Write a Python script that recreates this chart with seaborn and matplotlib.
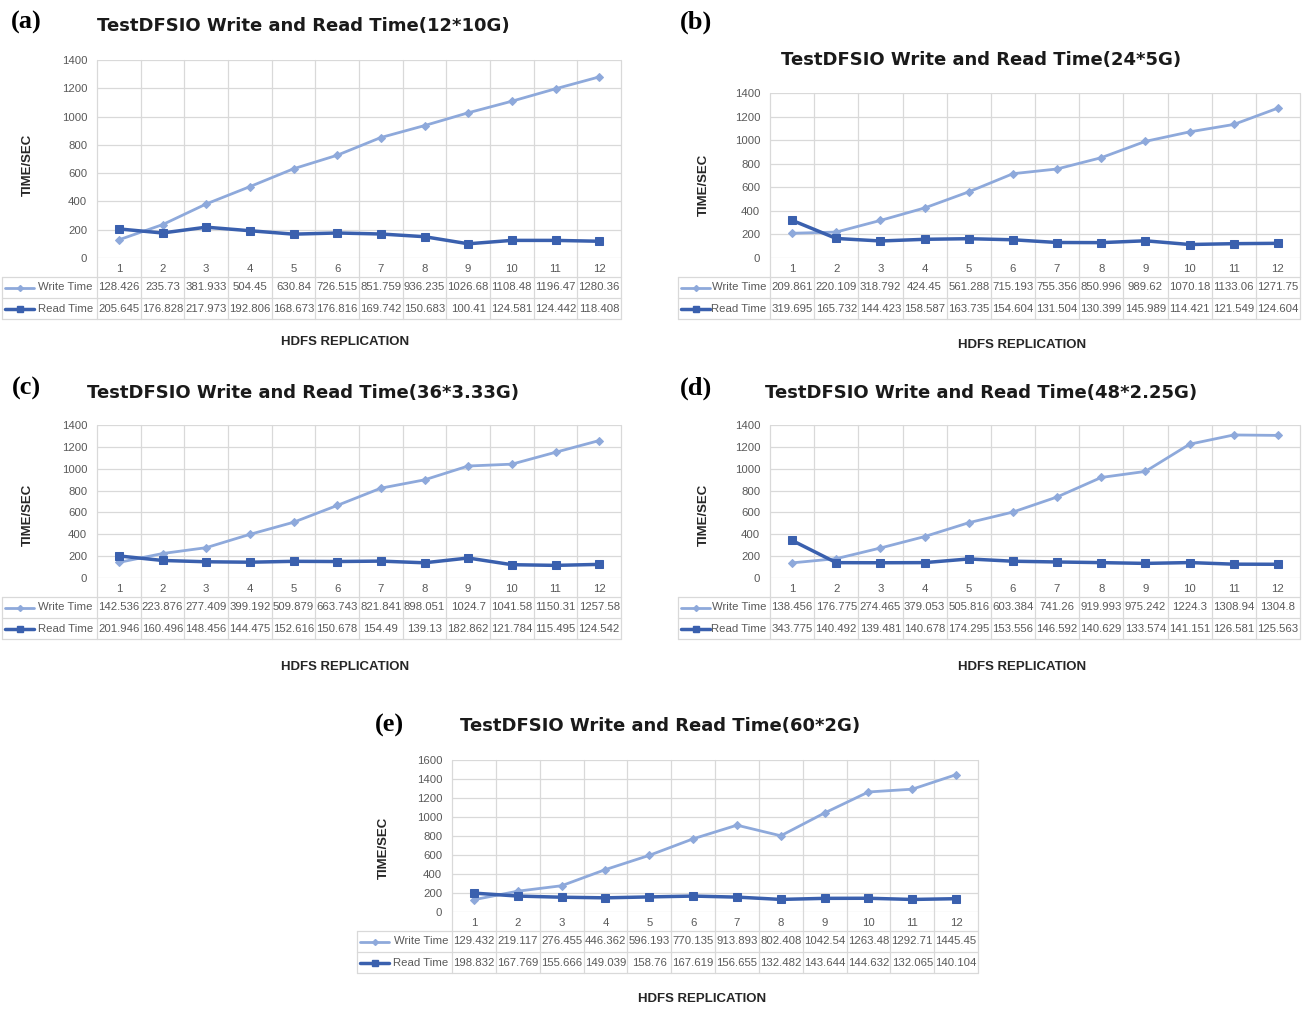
import pandas as pd
import seaborn as sns
import matplotlib.pyplot as plt

# DATA ----------------------------------------------------------------------------------------------
replication = list(range(1, 13))
panel_tags = ['(a)', '(b)', '(c)', '(d)', '(e)']
titles = ['TestDFSIO Write and Read Time(12*10G)',
          'TestDFSIO Write and Read Time(24*5G)',
          'TestDFSIO Write and Read Time(36*3.33G)',
          'TestDFSIO Write and Read Time(48*2.25G)',
          'TestDFSIO Write and Read Time(60*2G)']

write_a = [128.426, 235.73, 381.933, 504.45, 630.84, 726.515, 851.759, 936.235, 1026.68, 1108.48, 1196.47, 1280.36]
read_a = [205.645, 176.828, 217.973, 192.806, 168.673, 176.816, 169.742, 150.683, 100.41, 124.581, 124.442, 118.408]
write_b = [209.861, 220.109, 318.792, 424.45, 561.288, 715.193, 755.356, 850.996, 989.62, 1070.18, 1133.06, 1271.75]
read_b = [319.695, 165.732, 144.423, 158.587, 163.735, 154.604, 131.504, 130.399, 145.989, 114.421, 121.549, 124.604]
write_c = [142.536, 223.876, 277.409, 399.192, 509.879, 663.743, 821.841, 898.051, 1024.7, 1041.58, 1150.31, 1257.58]
read_c = [201.946, 160.496, 148.456, 144.475, 152.616, 150.678, 154.49, 139.13, 182.862, 121.784, 115.495, 124.542]
write_d = [138.456, 176.775, 274.465, 379.053, 505.816, 603.384, 741.26, 919.993, 975.242, 1224.3, 1308.94, 1304.8]
read_d = [343.775, 140.492, 139.481, 140.678, 174.295, 153.556, 146.592, 140.629, 133.574, 141.151, 126.581, 125.563]
write_e = [129.432, 219.117, 276.455, 446.362, 596.193, 770.135, 913.893, 802.408, 1042.54, 1263.48, 1292.71, 1445.45]
read_e = [198.832, 167.769, 155.666, 149.039, 158.76, 167.619, 156.655, 132.482, 143.644, 144.632, 132.065, 140.104]

writes = [write_a, write_b, write_c, write_d, write_e]
reads = [read_a, read_b, read_c, read_d, read_e]
y_max = [1400, 1400, 1400, 1400, 1600]

# LAYOUT (pixels) -----------------------------------------------------------------------------------
W, H = 1312, 1009
layout = [
    dict(tag=(26, 22), title=(303, 26), box=(97, 60, 621, 258), tleft=2, ylab=(28, 165), xlab=(345, 342)),
    dict(tag=(696, 22), title=(981, 60), box=(770, 93, 1300, 258), tleft=678, ylab=(704, 185), xlab=(1022, 345)),
    dict(tag=(26, 388), title=(303, 393), box=(97, 425, 621, 578), tleft=2, ylab=(28, 515), xlab=(345, 667)),
    dict(tag=(696, 388), title=(981, 393), box=(770, 425, 1300, 578), tleft=678, ylab=(704, 515), xlab=(1022, 667)),
    dict(tag=(389, 725), title=(660, 726), box=(452, 760, 978, 912), tleft=357, ylab=(384, 848), xlab=(702, 999)),
]

WRITE_C = '#8EA9DB'
READ_C = '#3A60AE'
GRID_C = '#D9D9D9'
TEXT_C = '#595959'
FS = 8.2  # table / tick font size

sns.set_theme(style='white')
plt.rcParams['font.family'] = ['Liberation Sans', 'DejaVu Sans']

fig = plt.figure(figsize=(W / 100, H / 100), dpi=100)
over = fig.add_axes([0, 0, 1, 1])
over.set_xlim(0, W)
over.set_ylim(H, 0)
over.axis('off')

row_h = [19, 21, 21]  # category row, write row, read row

for k, lay in enumerate(layout):
    l, t, r, b = lay['box']
    cw = (r - l) / 12
    tl = lay['tleft']

    # plot area
    ax = fig.add_axes([l / W, 1 - b / H, (r - l) / W, (b - t) / H])
    ax.patch.set_alpha(0)
    df = pd.DataFrame({'rep': replication, 'write': writes[k], 'read': reads[k]})
    sns.lineplot(data=df, x='rep', y='write', ax=ax, color=WRITE_C, marker='D', markersize=4,
                 markeredgecolor=WRITE_C, linewidth=2)
    sns.lineplot(data=df, x='rep', y='read', ax=ax, color=READ_C, marker='s', markersize=6,
                 markeredgecolor=READ_C, linewidth=2.5)
    ax.set_xlim(0.5, 12.5)
    ax.set_ylim(0, y_max[k])
    ax.set_yticks(range(0, y_max[k] + 1, 200))
    ax.set_xticks([])
    ax.set_xlabel('')
    ax.set_ylabel('')
    ax.grid(axis='y', color=GRID_C, linewidth=0.9)
    ax.tick_params(axis='y', length=0, pad=7, labelsize=FS, labelcolor=TEXT_C)
    for s in ax.spines.values():
        s.set_visible(False)

    # data table
    y1 = b + row_h[0]
    y2 = y1 + row_h[1]
    y3 = y2 + row_h[2]
    for j in range(13):
        over.plot([l + j * cw] * 2, [t, y3], color=GRID_C, lw=0.9)
    for yy in (y1, y2, y3):
        over.plot([tl, r], [yy, yy], color=GRID_C, lw=0.9)
    over.plot([tl, tl], [y1, y3], color=GRID_C, lw=0.9)
    for j, rep in enumerate(replication):
        cx = l + (j + 0.5) * cw
        over.text(cx, b + row_h[0] / 2 + 1, str(rep), ha='center', va='center', fontsize=FS, color=TEXT_C)
        over.text(cx, (y1 + y2) / 2, f'{writes[k][j]:g}', ha='center', va='center', fontsize=FS, color=TEXT_C)
        over.text(cx, (y2 + y3) / 2, f'{reads[k][j]:g}', ha='center', va='center', fontsize=FS, color=TEXT_C)

    # legend keys inside row label cells
    for (ya, yb), name, col, mk, ms, lw in [((y1, y2), 'Write Time', WRITE_C, 'D', 3, 2),
                                          ((y2, y3), 'Read Time', READ_C, 's', 5, 2.5)]:
        yc = (ya + yb) / 2
        over.plot([tl + 3, tl + 32], [yc, yc], color=col, lw=lw)
        over.plot([tl + 17.5], [yc], marker=mk, color=col, markersize=ms)
        over.text(l - 4, yc, name, ha='right', va='center', fontsize=FS, color=TEXT_C)

    # texts
    over.text(*lay['tag'], panel_tags[k], ha='center', va='center', fontsize=19, fontweight='bold',
              family=['Liberation Serif', 'DejaVu Serif'], color='black')
    over.text(*lay['title'], titles[k], ha='center', va='center', fontsize=13, fontweight='bold',
              family='DejaVu Sans', color='#1a1a1a')
    over.text(*lay['ylab'], 'TIME/SEC', ha='center', va='center', rotation=90, fontsize=9.5,
              fontweight='bold', color='#262626')
    over.text(*lay['xlab'], 'HDFS REPLICATION', ha='center', va='center', fontsize=9.5,
              fontweight='bold', color='#262626')

fig.savefig('out.png', dpi=100)
